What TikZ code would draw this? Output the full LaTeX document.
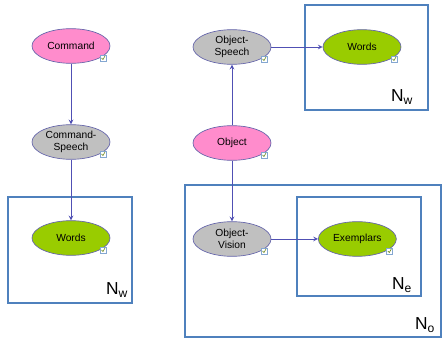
\documentclass[tikz,border=0pt]{standalone}
\usepackage{fontspec}
\setmainfont{Liberation Sans}
\usepackage{tikz}
\usetikzlibrary{shapes.geometric}
\definecolor{cmdpink}{RGB}{255,140,204}
\definecolor{hidgray}{RGB}{192,192,192}
\definecolor{wordgreen}{RGB}{153,204,0}
\definecolor{edgeblue}{RGB}{100,100,170}
\definecolor{arrowblue}{RGB}{80,80,180}
\definecolor{plateblue}{RGB}{79,129,189}
\tikzset{
    var/.style = {ellipse, minimum width=58.5pt, minimum height=26pt, inner sep=0pt, align=center, draw=edgeblue, line width=0.5pt, font=\fontsize{7.7}{8.8}\selectfont},
    cue/.style = {var, fill=cmdpink},
    hidden/.style = {var, fill=hidgray},
    observed/.style = {var, fill=wordgreen},
    plate/.style = {draw=plateblue, line width=1.5pt},
    platelabel/.style = {font=\fontsize{13}{14}\selectfont, anchor=center},
    tickbox/.style = {draw=plateblue!70, fill=white, line width=0.4pt},
    arrow/.style = {->,>=stealth, draw=arrowblue, line width=0.6pt}
}
\begin{document}
\begin{tikzpicture}[x=0.75pt, y=-0.75pt, node distance=72pt]
\useasboundingbox (0,0) rectangle (443,341);
% plates
\draw [plate] (8,197) rectangle (132,303);
\draw [plate] (305,5) rectangle (428,110);
\draw [plate] (185,185) rectangle (441,337);
\draw [plate] (297,197) rectangle (421,296);
\node (nwleft) [platelabel] at (117,290) {N\textsubscript{w}};
\node (nwright) [platelabel] at (402,97) {N\textsubscript{w}};
\node (ne) [platelabel] at (402,285) {N\textsubscript{e}};
\node (no) [platelabel] at (425,325) {N\textsubscript{o}};

\node (command) [cue] at (71,46) {Command};
\node (cmdspeech) [hidden, below of=command] {Command-\\Speech};
\node (wordsleft) [observed, below of=cmdspeech] {Words};
\node (object) [cue] at (232,143) {Object};
\node (objspeech) [hidden, above of=object] {Object-\\Speech};
\node (objvision) [hidden, below of=object] {Object-\\Vision};
\node (wordsright) [observed, right of=objspeech, node distance=97.5pt] {Words};
\node (exemplars) [observed, right of=objvision, node distance=94pt] {Exemplars};

\draw [arrow] (command) -- (cmdspeech);
\draw [arrow] (cmdspeech) -- (wordsleft);
\draw [arrow] (object) -- (objspeech);
\draw [arrow] (object) -- (objvision);
\draw [arrow] (objspeech) -- (wordsright);
\draw [arrow] (objvision) -- (exemplars);

% small check icons
\foreach \n in {command,cmdspeech,wordsleft,object,objspeech,objvision,wordsright,exemplars}{
    \draw [tickbox] ([shift={(29,9)}]\n.center) rectangle ([shift={(35,15)}]\n.center);
    \draw [wordgreen!60!black, line width=0.4pt] ([shift={(30.5,12)}]\n.center) -- ([shift={(32,13.5)}]\n.center) -- ([shift={(34,10)}]\n.center);
}
\end{tikzpicture}
\end{document}
